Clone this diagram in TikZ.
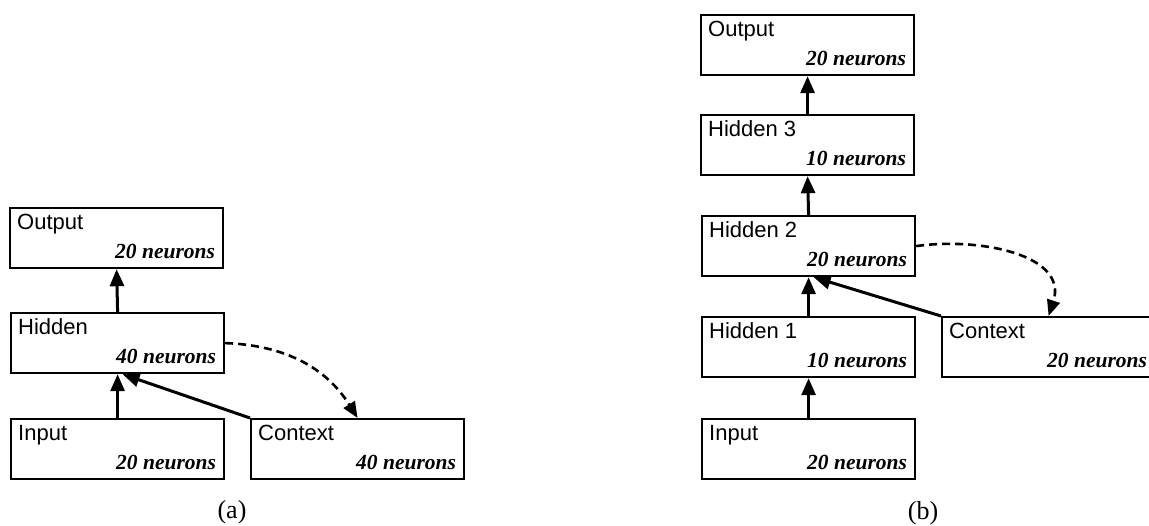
\documentclass[tikz,border=0pt]{standalone}
\usepackage{fontspec}
\setmainfont{Liberation Serif}
\setsansfont{Liberation Sans}
\usetikzlibrary{arrows.meta,calc}
\newcommand\mklayer[5]{%
  \node[layer] (#1) at (#2,#3) {};
  \node[ttl] (#1t) at ([xshift=8pt,yshift=-23pt]#1.north west) {#4};
  \node[cnt] (#1c) at ([xshift=-9pt,yshift=11pt]#1.south east) {#5};
}
\begin{document}
\begin{tikzpicture}[x=1pt,y=-1pt,
  layer/.style={draw, line width=2.2pt, minimum width=213pt, minimum height=60pt, inner sep=0pt, anchor=north west},
  ttl/.style={anchor=base west, inner sep=0pt, font=\sffamily\fontsize{22}{26}\selectfont},
  cnt/.style={anchor=base east, inner sep=0pt, font=\bfseries\itshape\fontsize{21.5}{26}\selectfont},
  capt/.style={inner sep=0pt, font=\fontsize{26}{30}\selectfont},
  feed/.style={line width=3pt, -{Triangle[width=14pt,length=17pt]}},
  recur/.style={line width=2.6pt, dash pattern=on 8pt off 5pt, -{Triangle[width=13pt,length=16pt]}},
]
\useasboundingbox (0,0) rectangle (1149,526);
% (a)
\mklayer{aout}{9}{207}{Output}{20 neurons}
\mklayer{ahid}{10}{312}{Hidden}{40 neurons}
\mklayer{ain}{10}{418}{Input}{20 neurons}
\mklayer{actx}{250}{418}{Context}{40 neurons}
\draw[feed] (ahid.north) -- (aout.south);
\draw[feed] (ain.north) -- (ahid.south);
\draw[feed] (actx.north west) -- ([xshift=5pt]ahid.south);
\draw[recur] (ahid.east) to[out=-2,in=122] (actx.north);
\node[capt] (capa) at (232,512) {(a)};
% (b)
\mklayer{bout}{700}{14}{Output}{20 neurons}
\mklayer{bh3}{700}{114}{Hidden 3}{10 neurons}
\mklayer{bh2}{701}{215}{Hidden 2}{20 neurons}
\mklayer{bh1}{701}{316}{Hidden 1}{10 neurons}
\mklayer{bin}{701}{418}{Input}{20 neurons}
\mklayer{bctx}{941}{316}{Context}{20 neurons}
\draw[feed] (bh3.north) -- (bout.south);
\draw[feed] (bh2.north) -- (bh3.south);
\draw[feed] (bh1.north) -- (bh2.south);
\draw[feed] (bin.north) -- (bh1.south);
\draw[feed] (bctx.north west) -- ([xshift=5pt]bh2.south);
\draw[recur] (bh2.east) to[out=8,in=72,looseness=1.1] (bctx.north);
\node[capt] (capb) at (923,513) {(b)};
\end{tikzpicture}
\end{document}
